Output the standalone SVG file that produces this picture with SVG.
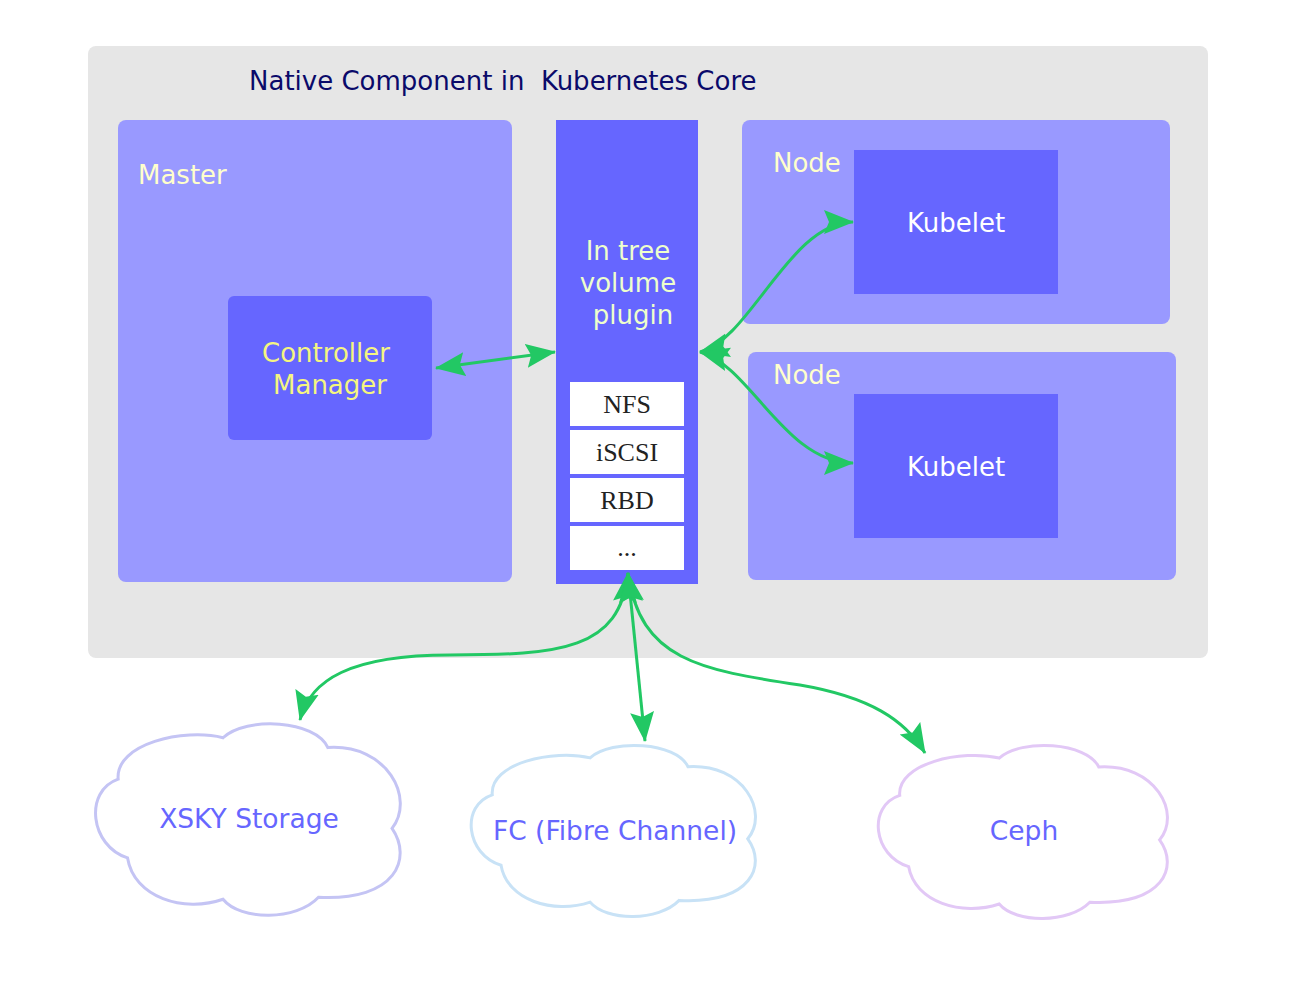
<svg xmlns="http://www.w3.org/2000/svg" xmlns:xlink="http://www.w3.org/1999/xlink" width="1308" height="994" viewBox="0 0 1308 994">
<style>
.sans{font-family:"DejaVu Sans",Verdana,sans-serif}
.serif{font-family:"Liberation Serif","Times New Roman",serif;font-size:26px;fill:#222;text-anchor:middle}
.light{fill:#9999ff}
.dark{fill:#6666ff}
.lbl{font-size:26px;fill:#ffffcc}
.mid{text-anchor:middle}
.wbox{fill:#ffffff}
.conn{fill:none;stroke:#22c864;stroke-width:3}
.cloud{fill:#ffffff;stroke-width:3}
.ctext{font-size:26.5px;fill:#6666ff;text-anchor:middle}
</style>
<defs>
<marker id="ah" markerUnits="userSpaceOnUse" markerWidth="30" markerHeight="26" viewBox="0 0 30 26" refX="29" refY="13" orient="auto-start-reverse">
<path d="M0,1 L30,13 L0,25 L5,13 Z" fill="#22c864"/>
</marker>
<path id="cloudp" vector-effect="non-scaling-stroke" d="M9,30 C8,12 30,4 42.5,9 C50,-2 72,0 76,14 C95,12 104,40 96.5,55 C103,70 98,92 73,90 C66,102 48,102 42.5,91 C30,98 14,90 12,70 C0,64 -2,36 9,30 Z"/>
</defs>
<rect width="1308" height="994" fill="#ffffff"/>
<g id="container">
<rect x="88" y="46" width="1120" height="612" rx="8" fill="#e6e6e6"/>
<text class="sans" x="249" y="90" font-size="26" fill="#0a0a6a" xml:space="preserve" style="white-space:pre">Native Component in  Kubernetes Core</text>
</g>
<g id="master">
<rect class="light" x="118" y="120" width="394" height="462" rx="8"/>
<text class="sans lbl" x="138" y="184">Master</text>
</g>
<g id="controller-manager">
<rect class="dark" x="228" y="296" width="204" height="144" rx="6"/>
<text class="sans mid" font-size="26" fill="#f5f580" x="326" y="362">Controller</text>
<text class="sans mid" font-size="26" fill="#f5f580" x="330" y="394">Manager</text>
</g>
<g id="plugin">
<rect class="dark" x="556" y="120" width="142" height="464"/>
<text class="sans mid" font-size="26" fill="#eeffcc" x="628" y="260">In tree</text>
<text class="sans mid" font-size="26" fill="#eeffcc" x="628" y="292">volume</text>
<text class="sans mid" font-size="26" fill="#eeffcc" x="633" y="324">plugin</text>
<rect class="wbox" x="570" y="382" width="114" height="44"/>
<text class="serif" x="627" y="413">NFS</text>
<rect class="wbox" x="570" y="430" width="114" height="44"/>
<text class="serif" x="627" y="461">iSCSI</text>
<rect class="wbox" x="570" y="478" width="114" height="44"/>
<text class="serif" x="627" y="509">RBD</text>
<rect class="wbox" x="570" y="526" width="114" height="44"/>
<text class="serif" x="627" y="556">...</text>
</g>
<g id="node1">
<rect class="light" x="742" y="120" width="428" height="204" rx="8"/>
<text class="sans lbl" x="773" y="172">Node</text>
</g>
<g id="kubelet1">
<rect class="dark" x="854" y="150" width="204" height="144"/>
<text class="sans mid" font-size="26" fill="#ffffff" x="956" y="232">Kubelet</text>
</g>
<g id="node2">
<rect class="light" x="748" y="352" width="428" height="228" rx="8"/>
<text class="sans lbl" x="773" y="384">Node</text>
</g>
<g id="kubelet2">
<rect class="dark" x="854" y="394" width="204" height="144"/>
<text class="sans mid" font-size="26" fill="#ffffff" x="956" y="476">Kubelet</text>
</g>
<g id="xsky">
<use xlink:href="#cloudp" class="cloud" stroke="#c4c4f4" transform="translate(90,720) scale(3.13,1.97)"/>
<text class="sans ctext" x="249" y="828">XSKY Storage</text>
</g>
<g id="fc">
<use xlink:href="#cloudp" class="cloud" stroke="#c8e2f6" transform="translate(466,742) scale(2.92,1.76)"/>
<text class="sans ctext" x="615" y="840">FC (Fibre Channel)</text>
</g>
<g id="ceph">
<use xlink:href="#cloudp" class="cloud" stroke="#e2c8f6" transform="translate(873,742) scale(2.97,1.78)"/>
<text class="sans ctext" x="1024" y="840">Ceph</text>
</g>
<g id="connectors">
<path class="conn" marker-start="url(#ah)" marker-end="url(#ah)" d="M436,368 L555,352"/>
<path class="conn" marker-start="url(#ah)" marker-end="url(#ah)" d="M700,352 C750,340 790,222 853,222"/>
<path class="conn" marker-start="url(#ah)" marker-end="url(#ah)" d="M700,352 C750,365 785,463 853,463"/>
<path class="conn" marker-start="url(#ah)" marker-end="url(#ah)" d="M628,573 C620,650 560,655 450,655 C350,655 310,680 300,720"/>
<path class="conn" marker-start="url(#ah)" marker-end="url(#ah)" d="M628,573 L645,741"/>
<path class="conn" marker-start="url(#ah)" marker-end="url(#ah)" d="M628,573 C640,660 700,670 800,685 C870,697 905,720 925,753"/>
</g>
</svg>
